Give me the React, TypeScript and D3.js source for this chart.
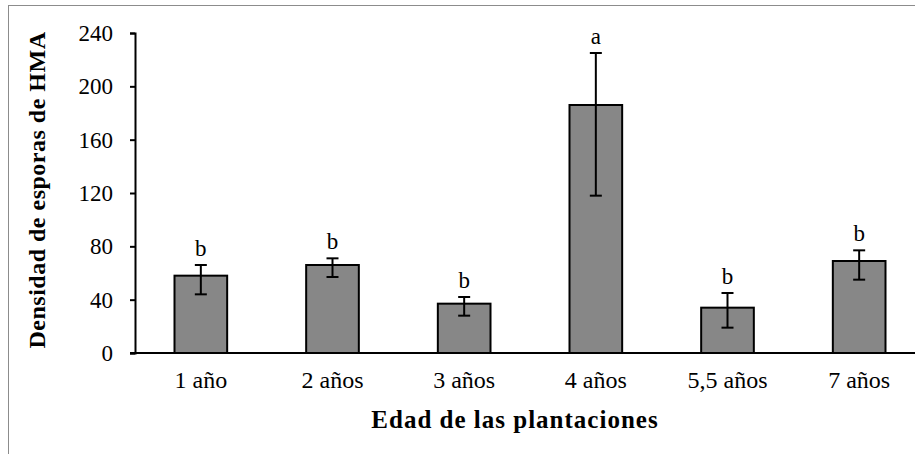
import React, { useRef, useEffect } from 'react';
import * as d3 from 'd3';

const categories = ['1 año', '2 años', '3 años', '4 años', '5,5 años', '7 años'];
const means = [58, 66, 37, 186, 34, 69];
const errUpper = [66, 71, 42, 225, 45, 77];
const errLower = [44, 57, 28, 118, 19, 55];
const letters = ['b', 'b', 'b', 'a', 'b', 'b'];
const yTicks = [0, 40, 80, 120, 160, 200, 240];

const W = 915;
const H = 454;

const App: React.FC = () => {
  const svgRef = useRef<SVGSVGElement | null>(null);

  useEffect(() => {
    if (!svgRef.current) return;
    const svg = d3.select(svgRef.current);
    svg.selectAll('*').remove();

    const left = 135;
    const right = 925; // plot runs past the crop edge
    const top = 33;
    const bottom = 353;

    // outer frame
    svg.append('rect')
      .attr('x', 8.5).attr('y', 5.5)
      .attr('width', W + 20).attr('height', H + 20)
      .attr('fill', 'white').attr('stroke', '#8c8c8c').attr('stroke-width', 1);

    const x = d3.scaleBand<string>()
      .domain(categories)
      .range([left, right])
      .paddingInner(0.6)
      .paddingOuter(0.3);

    const y = d3.scaleLinear().domain([0, 240]).range([bottom, top]);

    const g = svg.append('g');

    // bars
    g.selectAll('rect.bar')
      .data(categories)
      .enter().append('rect')
      .attr('class', 'bar')
      .attr('x', d => x(d) as number)
      .attr('width', x.bandwidth())
      .attr('y', (_, i) => y(means[i]))
      .attr('height', (_, i) => bottom - y(means[i]))
      .attr('fill', '#878787')
      .attr('stroke', '#000')
      .attr('stroke-width', 2);

    // error bars
    const eb = g.selectAll('g.err')
      .data(categories)
      .enter().append('g')
      .attr('class', 'err')
      .attr('stroke', '#000')
      .attr('stroke-width', 2);
    const cx = (d: string) => (x(d) as number) + x.bandwidth() / 2;
    eb.append('line')
      .attr('x1', cx).attr('x2', cx)
      .attr('y1', (_, i) => y(errUpper[i]))
      .attr('y2', (_, i) => y(errLower[i]));
    eb.append('line')
      .attr('x1', d => cx(d) - 6).attr('x2', d => cx(d) + 6)
      .attr('y1', (_, i) => y(errUpper[i]))
      .attr('y2', (_, i) => y(errUpper[i]));
    eb.append('line')
      .attr('x1', d => cx(d) - 6).attr('x2', d => cx(d) + 6)
      .attr('y1', (_, i) => y(errLower[i]))
      .attr('y2', (_, i) => y(errLower[i]));

    // significance letters
    g.selectAll('text.letter')
      .data(categories)
      .enter().append('text')
      .attr('class', 'letter')
      .attr('x', cx)
      .attr('y', (_, i) => y(errUpper[i]) - 9)
      .attr('text-anchor', 'middle')
      .attr('font-size', 23)
      .text((_, i) => letters[i]);

    // y axis
    const yAxis = g.append('g')
      .attr('transform', `translate(${left},0)`)
      .call(d3.axisLeft(y).tickValues(yTicks).tickSize(5).tickPadding(17))
      .attr('font-family', null)
      .attr('font-size', 23);
    yAxis.select('.domain').attr('stroke-width', 2);
    yAxis.selectAll('.tick line').attr('stroke-width', 2);
    yAxis.selectAll('text').attr('fill', '#000');

    // x axis
    const xAxis = g.append('g')
      .attr('transform', `translate(0,${bottom})`)
      .call(d3.axisBottom(x).tickSize(0).tickPadding(20))
      .attr('font-family', null)
      .attr('font-size', 24);
    xAxis.select('.domain')
      .attr('stroke-width', 2)
      .attr('d', `M${left - 5},0H${right}`);
    xAxis.selectAll('text')
      .attr('fill', '#000')
      .attr('dy', '0.62em');

    // axis titles
    svg.append('text')
      .attr('transform', `translate(45,190) rotate(-90)`)
      .attr('text-anchor', 'middle')
      .attr('font-weight', 'bold')
      .attr('font-size', 24)
      .attr('letter-spacing', 0.5)
      .text('Densidad de esporas de HMA');

    svg.append('text')
      .attr('x', 515)
      .attr('y', 428)
      .attr('text-anchor', 'middle')
      .attr('font-weight', 'bold')
      .attr('font-size', 25)
      .attr('letter-spacing', 1)
      .text('Edad de las plantaciones');
  }, []);

  return (
    <svg
      ref={svgRef}
      width={W}
      height={H}
      style={{
        position: 'absolute',
        left: 0,
        top: 0,
        background: 'white',
        fontFamily: 'Liberation Serif',
      }}
    />
  );
};

export default App;
